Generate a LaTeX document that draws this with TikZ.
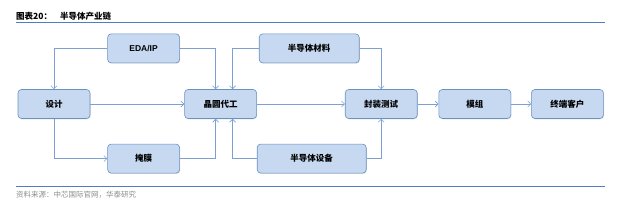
\documentclass[tikz,border=0pt]{standalone}
\usepackage{fontspec}
\setmainfont{Liberation Sans}
\newfontfamily\cjk{Noto Sans CJK SC}
\usepackage{tikz}
\usetikzlibrary{arrows.meta, positioning, shadows}
\definecolor{boxfill}{HTML}{C6D9F1}
\definecolor{boxline}{HTML}{6A90C4}
\definecolor{arrline}{HTML}{7EA0D0}
\definecolor{rule}{HTML}{4F7DBE}
\definecolor{note}{HTML}{8C8C8C}

\begin{document}
\begin{tikzpicture}[
  x=1pt, y=1pt,
  node distance=26pt and 20pt,
  box/.style={draw=boxline, fill=boxfill, line width=0.6pt, rounded corners=3.5pt, minimum width=72pt, minimum height=29pt, align=center, inner sep=2pt, font=\cjk\bfseries\fontsize{8.5}{10}\selectfont, drop shadow={shadow xshift=0.6pt, shadow yshift=-0.8pt, opacity=0.25}},
  arr/.style={-{Straight Barb[length=3pt,width=6pt]}, draw=arrline, line width=0.6pt},
  hline/.style={draw=rule, line width=0.8pt},
]
\useasboundingbox (0,0) rectangle (640,-204);

% title and rules
\node[anchor=base west, inner sep=0pt, font=\cjk\bfseries\fontsize{8.5}{10}\selectfont] (title) at (16,-19) {图表20：\hspace{8pt}半导体产业链};
\draw[hline] (16,-22) -- (605,-22);
\draw[hline] (16,-186) -- (605,-186);
\node[anchor=base west, inner sep=0pt, text=note, font=\cjk\fontsize{7.5}{9}\selectfont] (source) at (16,-197) {资料来源：中芯国际官网，华泰研究};

% main chain
\node[box] (sheji) at (54,-104) {设计};
\node[box, right=94pt of sheji] (jingyuan) {晶圆代工};
\node[box, right=88pt of jingyuan] (fengce) {封装测试};
\node[box, right=21pt of fengce] (mozu) {模组};
\node[box, right=20pt of mozu] (kehu) {终端客户};

% inputs
\node[box, above right=26pt and 17pt of sheji] (eda) {\rmfamily EDA/IP};
\node[box, below right=25pt and 17pt of sheji] (yanmo) {掩膜};
\node[box, minimum width=100pt, above right=26pt and 2pt of jingyuan] (cailiao) {半导体材料};
\node[box, minimum width=109pt, below right=25pt and 0pt of jingyuan] (shebei) {半导体设备};

\draw[arr] (sheji) -- (jingyuan);
\draw[arr] (jingyuan) -- (fengce);
\draw[arr] (fengce) -- (mozu);
\draw[arr] (mozu) -- (kehu);

\draw[arr] (eda.west) -| (sheji.north);
\draw[arr] (eda.east) -| ([xshift=-5pt]jingyuan.north);
\draw[arr] (cailiao.west) -| ([xshift=12pt]jingyuan.north);
\draw[arr] (cailiao.east) -| (fengce.north);
\draw[arr] (sheji.south) |- (yanmo.west);
\draw[arr] (yanmo.east) -| ([xshift=-5pt]jingyuan.south);
\draw[arr] (shebei.west) -| ([xshift=12pt]jingyuan.south);
\draw[arr] (shebei.east) -| (fengce.south);

\end{tikzpicture}
\end{document}
